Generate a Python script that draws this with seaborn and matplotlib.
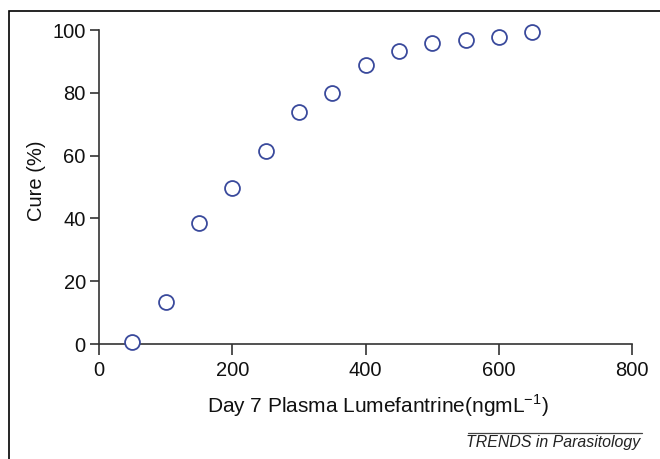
import numpy as np
import pandas as pd
import seaborn as sns
import matplotlib.pyplot as plt
from matplotlib.patches import Rectangle
from matplotlib.lines import Line2D

# data
lumefantrine = [50, 100, 150, 200, 250, 300, 350, 400, 450, 500, 550, 600, 650]
cure_pct = [0.5, 13.5, 38.5, 49.8, 61.5, 73.8, 80.0, 88.9, 93.3, 96.0, 96.8, 97.9, 99.5]
x_ticks = [0, 200, 400, 600, 800]
y_ticks = [0, 20, 40, 60, 80, 100]

df = pd.DataFrame({'day7': lumefantrine, 'cure': cure_pct})

sns.set_style('ticks')
plt.rcParams['font.family'] = ['Liberation Sans', 'DejaVu Sans']

fig = plt.figure(figsize=(6.6, 4.59), dpi=100)
ax = fig.add_axes([0.15, 0.2505, 0.808, 0.6841])

sns.scatterplot(data=df, x='day7', y='cure', ax=ax, s=115, marker='o',
                facecolor='white', edgecolor='#3a4a9c', linewidth=1.3,
                clip_on=False, zorder=3)

ax.set_xlim(0, 800)
ax.set_ylim(0, 100)
ax.set_xticks(x_ticks)
ax.set_yticks(y_ticks)
sns.despine(ax=ax)
for side in ['left', 'bottom']:
    ax.spines[side].set_color('#333333')
    ax.spines[side].set_linewidth(1.2)
ax.tick_params(axis='x', length=8, width=1.2, color='#333333', labelsize=14.5,
               labelcolor='#111111', pad=4)
ax.tick_params(axis='y', length=6.5, width=1.2, color='#333333', labelsize=14.5,
               labelcolor='#111111', pad=3)

ax.set_xlabel('Day 7 Plasma Lumefantrine(ngmL$^{\\mathregular{-1}}$)', fontsize=15,
              color='#111111')
ax.set_ylabel('Cure (%)', fontsize=14.5, color='#111111')
ax.xaxis.set_label_coords(0.523, -0.155)
ax.yaxis.set_label_coords(-0.10, 0.52)

# journal footer
fig.text(0.97, 0.035, 'TRENDS in Parasitology', ha='right', va='center',
         fontsize=11.4, style='italic', color='#222222')
fig.add_artist(Line2D([468 / 660, 642 / 660], [1 - 433 / 459, 1 - 433 / 459],
                      color='#444444', linewidth=0.9))

# outer frame (cut off at right and bottom)
fig.add_artist(Rectangle((9 / 660, -0.1), 1.2, 1 - 11 / 459 + 0.1,
                         fill=False, edgecolor='black', linewidth=1.2,
                         transform=fig.transFigure))

fig.savefig('out.png', dpi=100)
